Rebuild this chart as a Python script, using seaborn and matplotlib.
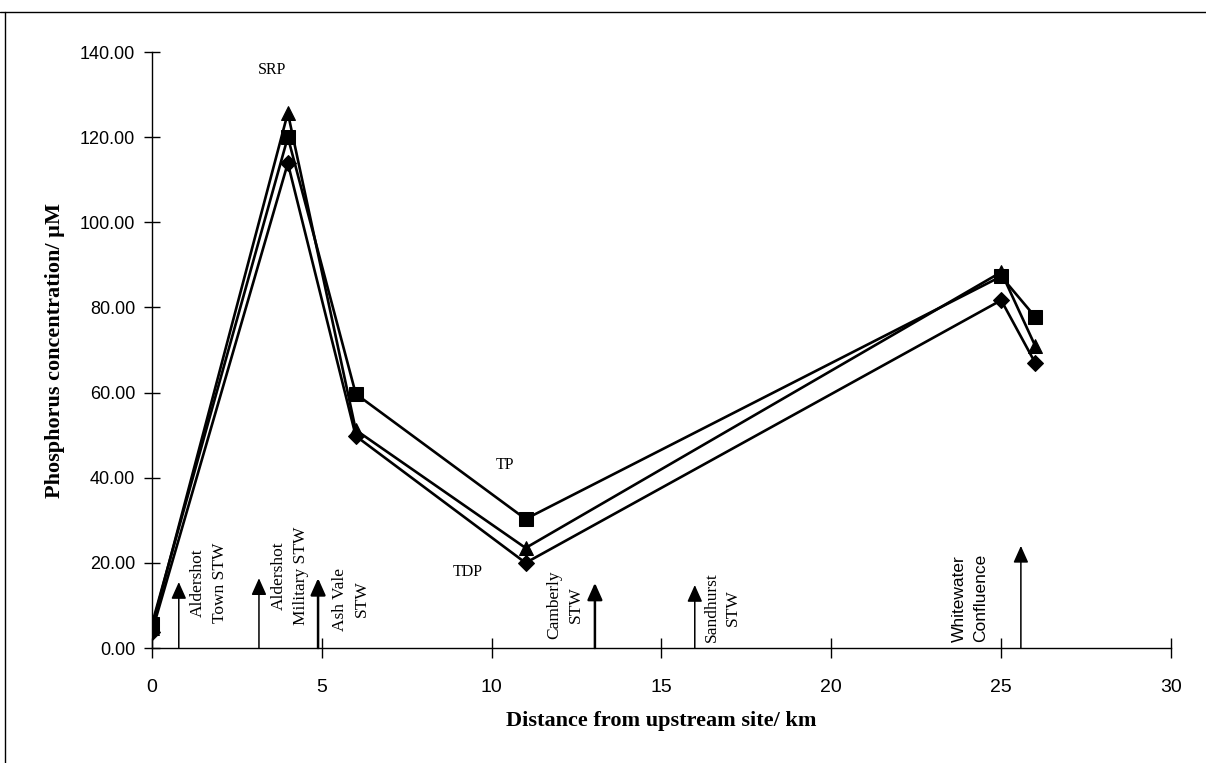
import matplotlib
matplotlib.use("Agg")
import matplotlib.pyplot as plt
from matplotlib.lines import Line2D
import seaborn as sns
import pandas as pd
import numpy as np

# ---- data ----
distance_km = [0, 4, 6, 11, 25, 26]
tp_values = [5.6, 120.0, 59.7, 30.3, 87.3, 77.8]
srp_values = [4.8, 125.7, 51.2, 23.5, 88.3, 71.0]
tdp_values = [3.8, 113.9, 49.8, 20.0, 81.7, 67.0]
series_names = ["TP", "SRP", "TDP"]

# inputs (sewage works etc.) along the river
input_labels = ["Aldershot\nTown STW", "Aldershot\nMilitary STW", "Ash Vale\nSTW",
                "Camberly\nSTW", "Sandhurst\nSTW", "Whitewater\nConfluence"]
input_arrow_x = [0.79, 3.15, 4.89, 13.04, 15.98, 25.58]
input_arrow_top = [15.5, 16.4, 16.4, 15.3, 14.8, 24.0]
input_label_x = [1.68, 4.06, 5.86, 12.16, 16.8, 24.08]
input_label_y = [15.3, 16.9, 11.5, 10.1, 9.6, 11.7]

x_ticks = [0, 5, 10, 15, 20, 25, 30]
y_ticks = [0, 20, 40, 60, 80, 100, 120, 140]

df = pd.DataFrame({
    "distance": distance_km * 3,
    "conc": tp_values + srp_values + tdp_values,
    "series": [s for s in series_names for _ in distance_km],
})

sns.set_theme(style="white")
plt.rcParams["font.family"] = ["Liberation Serif", "DejaVu Serif"]

fig = plt.figure(figsize=(12.06, 7.63), dpi=100)
ax = fig.add_axes([0.126, 0.1507, 0.845, 0.7811])

sns.lineplot(data=df, x="distance", y="conc", hue="series", style="series",
             palette={"TP": "black", "SRP": "black", "TDP": "black"},
             markers={"TP": "s", "SRP": "^", "TDP": "D"},
             dashes=False, markersize=10, linewidth=1.9, markeredgecolor="black",
             legend=False, ax=ax, sort=False)
for line in ax.lines:
    if line.get_marker() == "D":
        line.set_markersize(8.5)
    if line.get_marker() == "^":
        line.set_markersize(10.5)

ax.set_xlim(0, 30)
ax.set_ylim(0, 140)
ax.set_xticks(x_ticks)
ax.set_yticks(y_ticks)
ax.set_yticklabels([f"{v:.2f}" for v in y_ticks])
ax.set_xticklabels([str(v) for v in x_ticks])

for lab in ax.get_xticklabels() + ax.get_yticklabels():
    lab.set_fontfamily("Liberation Sans")
    lab.set_fontsize(13)
    lab.set_color("black")
for lab in ax.get_xticklabels():
    lab.set_fontsize(14)

ax.tick_params(axis="x", direction="inout", length=14, width=1, pad=15, colors="black")
ax.tick_params(axis="y", direction="inout", length=12, width=1, pad=6, colors="black")
ax.tick_params(axis="both", which="both", bottom=True, left=True)

for side in ["top", "right"]:
    ax.spines[side].set_visible(False)
for side in ["left", "bottom"]:
    ax.spines[side].set_color("black")
    ax.spines[side].set_linewidth(1.0)

ax.set_xlabel("Distance from upstream site/ km", fontsize=16, fontweight="bold",
              fontfamily="Liberation Serif", color="black")
ax.set_ylabel("Phosphorus concentration/ \u00b5M", fontsize=16, fontweight="bold",
              fontfamily="Liberation Serif", color="black")
ax.xaxis.set_label_coords(0.5, -0.105)
ax.yaxis.set_label_coords(-0.085, 0.5)

# series labels
ax.text(3.53, 135.8, "SRP", fontsize=11.5, ha="center", va="center", color="black")
ax.text(10.4, 43.0, "TP", fontsize=11.5, ha="center", va="center", color="black")
ax.text(9.3, 17.9, "TDP", fontsize=11.5, ha="center", va="center", color="black")

# input arrows and labels
for i, (xa, top) in enumerate(zip(input_arrow_x, input_arrow_top)):
    lw = 1.8 if i in (2, 3) else 1.1
    ax.annotate("", xy=(xa, top), xytext=(xa, 0.0),
                arrowprops=dict(arrowstyle="-|>,head_length=0.85,head_width=0.38",
                                color="black", lw=lw, shrinkA=0, shrinkB=0),
                annotation_clip=False)

for i, (lab, lx, ly) in enumerate(zip(input_labels, input_label_x, input_label_y)):
    fam = "Liberation Sans" if i == 5 else "Liberation Serif"
    ax.text(lx, ly, lab, rotation=90, ha="center", va="center", fontsize=12.5,
            fontfamily=fam, multialignment="center", linespacing=1.45, color="black")

# outer frame (top and left edges visible)
fig.add_artist(Line2D([0.0, 1.0], [0.984, 0.984], transform=fig.transFigure,
                      color="black", lw=1.0))
fig.add_artist(Line2D([0.004, 0.004], [0.0, 0.984], transform=fig.transFigure,
                      color="black", lw=1.0))

fig.savefig("out.png", dpi=100, facecolor="white")
